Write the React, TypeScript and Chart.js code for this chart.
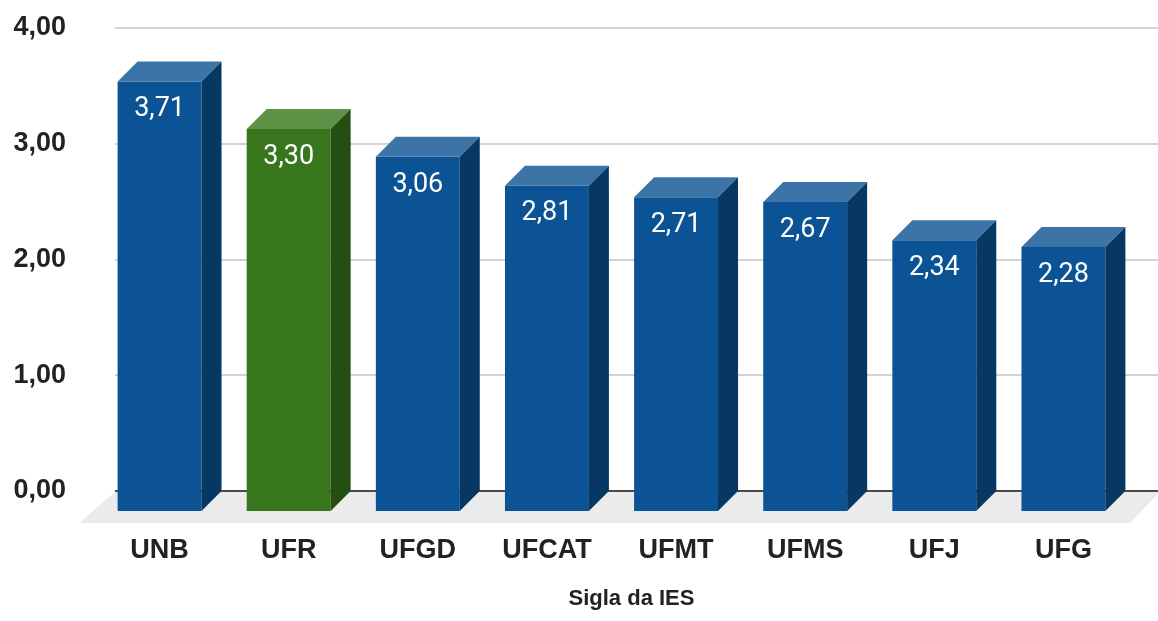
import React, { useEffect, useRef } from 'react';
import { Chart, registerables } from 'chart.js';

Chart.register(...registerables);

const categories = ['UNB', 'UFR', 'UFGD', 'UFCAT', 'UFMT', 'UFMS', 'UFJ', 'UFG'];
const values = [3.71, 3.3, 3.06, 2.81, 2.71, 2.67, 2.34, 2.28];
const highlighted = ['UFR'];
const yTickValues = [0, 1, 2, 3, 4];
const axisTitle = 'Sigla da IES';

const BLUE = { front: '#0b5394', top: '#3d74a7', side: '#073763' };
const GREEN = { front: '#38761d', top: '#5f9147', side: '#254f12' };
const DEPTH = 20;

const fmt = (v: number) => v.toFixed(2).replace('.', ',');

export default function App() {
  const ref = useRef<HTMLCanvasElement>(null);

  useEffect(() => {
    const canvas = ref.current!;
    const palettes = categories.map((c) => (highlighted.includes(c) ? GREEN : BLUE));

    const plugin = {
      id: 'threeD',
      beforeDatasetsDraw(chart: any) {
        const { ctx, chartArea, scales } = chart;
        const y = scales.y;
        const W = chart.width;
        const base = y.getPixelForValue(0);
        ctx.save();
        // floor
        ctx.fillStyle = '#ebebeb';
        ctx.beginPath();
        ctx.moveTo(chartArea.left, base + 1);
        ctx.lineTo(W + 2, base + 1);
        ctx.lineTo(W - 28, base + 32);
        ctx.lineTo(chartArea.left - 36, base + 32);
        ctx.closePath();
        ctx.fill();
        // grid lines on back wall
        ctx.lineWidth = 2;
        ctx.strokeStyle = '#d3d3d3';
        yTickValues.forEach((v) => {
          if (v === 0) return;
          const py = Math.round(y.getPixelForValue(v));
          ctx.beginPath();
          ctx.moveTo(chartArea.left, py);
          ctx.lineTo(W, py);
          ctx.stroke();
        });
        ctx.strokeStyle = '#4a4a4a';
        ctx.beginPath();
        ctx.moveTo(chartArea.left, Math.round(base));
        ctx.lineTo(W, Math.round(base));
        ctx.stroke();
        ctx.restore();
        ctx.save();
        ctx.translate(-DEPTH, DEPTH);
      },
      afterDatasetsDraw(chart: any) {
        const { ctx } = chart;
        ctx.restore();
        const meta = chart.getDatasetMeta(0);
        meta.data.forEach((el: any, i: number) => {
          const { x, y, base, width } = el.getProps(['x', 'y', 'base', 'width'], true);
          const L = x - width / 2;
          const R = x + width / 2;
          const p = palettes[i];
          ctx.save();
          ctx.fillStyle = p.top;
          ctx.beginPath();
          ctx.moveTo(L - DEPTH, y + DEPTH);
          ctx.lineTo(R - DEPTH, y + DEPTH);
          ctx.lineTo(R, y);
          ctx.lineTo(L, y);
          ctx.closePath();
          ctx.fill();
          ctx.fillStyle = p.side;
          ctx.beginPath();
          ctx.moveTo(R - DEPTH, y + DEPTH);
          ctx.lineTo(R, y);
          ctx.lineTo(R, base);
          ctx.lineTo(R - DEPTH, base + DEPTH);
          ctx.closePath();
          ctx.fill();
          ctx.fillStyle = '#ffffff';
          ctx.font = '27px Roboto';
          ctx.textAlign = 'center';
          ctx.textBaseline = 'middle';
          ctx.fillText(fmt(values[i]), x - DEPTH, y + DEPTH + 28);
          ctx.restore();
        });
      },
    };

    const chart = new Chart(canvas, {
      type: 'bar',
      data: {
        labels: categories,
        datasets: [
          {
            data: values,
            backgroundColor: palettes.map((p) => p.front),
            borderWidth: 0,
            categoryPercentage: 1,
            barPercentage: 0.65,
            clip: false as any,
          },
        ],
      },
      options: {
        responsive: false,
        maintainAspectRatio: false,
        animation: false,
        devicePixelRatio: 1,
        events: [],
        layout: { padding: { top: 28, right: 10, left: 0, bottom: 0 } },
        plugins: {
          legend: { display: false },
          tooltip: { enabled: false },
        },
        scales: {
          x: {
            grid: { display: false, drawTicks: false },
            border: { display: false },
            ticks: {
              color: '#222222',
              font: { family: '"Liberation Sans", Arial, sans-serif', weight: 'bold', size: 27 },
              labelOffset: -DEPTH,
              padding: 43,
              maxRotation: 0,
              autoSkip: false,
            },
            title: {
              display: true,
              text: axisTitle,
              color: '#222222',
              font: { family: '"Liberation Sans", Arial, sans-serif', weight: 'bold', size: 22 },
              padding: { top: 0, bottom: 9 },
            },
            afterFit(scale: any) {
              scale.height = 130;
            },
          },
          y: {
            min: 0,
            max: 4,
            grid: { display: false, drawTicks: false },
            border: { display: false },
            ticks: {
              stepSize: 1,
              color: '#222222',
              font: { family: '"Liberation Sans", Arial, sans-serif', weight: 'bold', size: 27 },
              padding: 49,
              callback: (v: any) => fmt(Number(v)),
            },
            afterFit(scale: any) {
              scale.width = 115;
              scale.paddingTop = 0;
              scale.paddingBottom = 0;
            },
          },
        },
      },
      plugins: [plugin],
    });

    return () => chart.destroy();
  }, []);

  return (
    <div style={{ position: 'fixed', left: 0, top: 0, width: 1158, height: 621, background: '#ffffff' }}>
      <canvas ref={ref} width={1158} height={621} style={{ display: 'block' }} />
    </div>
  );
}
